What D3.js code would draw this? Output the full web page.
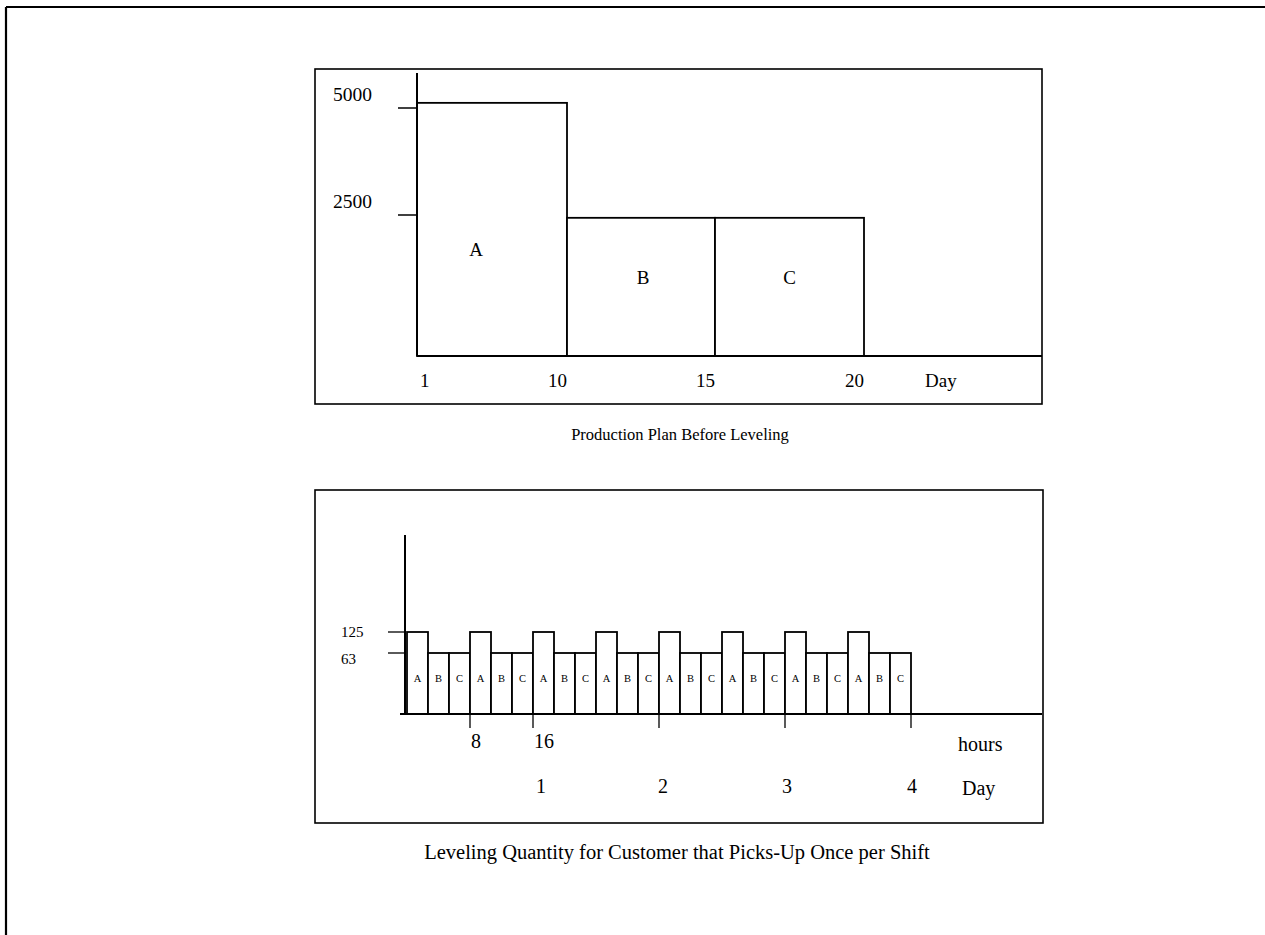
<!DOCTYPE html>
<html>
<head>
<meta charset="utf-8">
<script src="https://cdn.jsdelivr.net/npm/d3@7"></script>
<style>
  html, body { margin: 0; padding: 0; background: #fff; }
  svg { display: block; }
  text { font-family: "Liberation Serif", "Times New Roman", serif; fill: #000; }
</style>
</head>
<body>
<svg id="chart" width="1265" height="935"></svg>
<script>
// ---------- DATA ----------
// Top chart: Production Plan Before Leveling
const planProducts = ["A", "B", "C"];
const planStartDay = [1, 10, 15];
const planEndDay = [10, 15, 20];
const planQuantity = [5120, 2450, 2450];
const planYTicks = [2500, 5000];
const planXTicks = [1, 10, 15, 20];
const planXUnit = "Day";
const planTitle = "Production Plan Before Leveling";

// Bottom chart: Leveling Quantity for Customer that Picks-Up Once per Shift
const levelProducts = ["A","B","C","A","B","C","A","B","C","A","B","C",
                       "A","B","C","A","B","C","A","B","C","A","B","C"];
const levelQuantity = [125,63,63,125,63,63,125,63,63,125,63,63,
                       125,63,63,125,63,63,125,63,63,125,63,63];
const levelTotalHours = 64;
const levelYTicks = [63, 125];
const levelHourTicks = [8, 16];
const levelDayTicks = [1, 2, 3, 4];
const levelHoursPerDay = 16;
const levelTitle = "Leveling Quantity for Customer that Picks-Up Once per Shift";

// ---------- DRAW ----------
const svg = d3.select("#chart");
const ink = "#000";

// outer page frame (top and left edges visible)
svg.append("line").attr("x1", 6).attr("y1", 7).attr("x2", 1265).attr("y2", 7)
  .attr("stroke", ink).attr("stroke-width", 2.2);
svg.append("line").attr("x1", 6).attr("y1", 7).attr("x2", 6).attr("y2", 935)
  .attr("stroke", ink).attr("stroke-width", 2.2);

// ===== Top chart =====
const g1 = svg.append("g");
g1.append("rect").attr("x", 315).attr("y", 69).attr("width", 727).attr("height", 335)
  .attr("fill", "none").attr("stroke", ink).attr("stroke-width", 1.6);

const x1 = d3.scaleLinear().domain([1, 10, 15, 20]).range([417, 567, 715, 864]);
const y1 = d3.scaleLinear().domain([0, 2500, 5000]).range([356, 215, 108]);

// bars
g1.selectAll("rect.bar").data(planProducts).enter().append("rect")
  .attr("class", "bar")
  .attr("x", (d, i) => x1(planStartDay[i]))
  .attr("y", (d, i) => y1(planQuantity[i]))
  .attr("width", (d, i) => x1(planEndDay[i]) - x1(planStartDay[i]))
  .attr("height", (d, i) => y1(0) - y1(planQuantity[i]))
  .attr("fill", "#fff").attr("stroke", ink).attr("stroke-width", 1.8);

const labelDx = [-16, 2, 0];
const labelDy = [27, -3, -3];
g1.selectAll("text.blab").data(planProducts).enter().append("text")
  .attr("class", "blab")
  .attr("x", (d, i) => (x1(planStartDay[i]) + x1(planEndDay[i])) / 2 + labelDx[i])
  .attr("y", (d, i) => (y1(0) + y1(planQuantity[i])) / 2 + labelDy[i])
  .attr("text-anchor", "middle").attr("font-size", 19)
  .text(d => d);

// y axis
g1.append("line").attr("x1", 417).attr("x2", 417).attr("y1", 73).attr("y2", y1(0))
  .attr("stroke", ink).attr("stroke-width", 2);
g1.selectAll("line.ytick").data(planYTicks).enter().append("line")
  .attr("x1", 398).attr("x2", 417)
  .attr("y1", d => y1(d)).attr("y2", d => y1(d))
  .attr("stroke", ink).attr("stroke-width", 1.5);
g1.selectAll("text.ylab").data(planYTicks).enter().append("text")
  .attr("x", 333).attr("y", d => y1(d) - 7)
  .attr("font-size", 19.5).text(d => d);

// x axis baseline
g1.append("line").attr("x1", 417).attr("x2", 1042).attr("y1", y1(0)).attr("y2", y1(0))
  .attr("stroke", ink).attr("stroke-width", 2);
g1.selectAll("text.xlab").data(planXTicks).enter().append("text")
  .attr("x", (d, i) => i === 0 ? x1(d) + 3 : x1(d))
  .attr("y", 387)
  .attr("text-anchor", (d, i) => i === 0 ? "start" : "end")
  .attr("font-size", 19).text(d => d);
g1.append("text").attr("x", 925).attr("y", 387).attr("font-size", 19).text(planXUnit);

svg.append("text").attr("x", 680).attr("y", 440).attr("text-anchor", "middle")
  .attr("font-size", 16.5).text(planTitle);

// ===== Bottom chart =====
const g2 = svg.append("g");
g2.append("rect").attr("x", 315).attr("y", 490).attr("width", 728).attr("height", 333)
  .attr("fill", "none").attr("stroke", ink).attr("stroke-width", 1.6);

const x2 = d3.scaleLinear().domain([0, levelTotalHours]).range([407, 911]);
const y2 = d3.scaleLinear().domain([0, 63, 125]).range([714, 653, 632]);
const barHours = levelTotalHours / levelProducts.length;

g2.selectAll("rect.bar").data(levelProducts).enter().append("rect")
  .attr("class", "bar")
  .attr("x", (d, i) => x2(i * barHours))
  .attr("y", (d, i) => y2(levelQuantity[i]))
  .attr("width", (d, i) => x2((i + 1) * barHours) - x2(i * barHours))
  .attr("height", (d, i) => y2(0) - y2(levelQuantity[i]))
  .attr("fill", "#fff").attr("stroke", ink).attr("stroke-width", 1.8);

g2.selectAll("text.blab").data(levelProducts).enter().append("text")
  .attr("x", (d, i) => x2((i + 0.5) * barHours))
  .attr("y", 682)
  .attr("text-anchor", "middle").attr("font-size", 10.5)
  .text(d => d);

// y axis
g2.append("line").attr("x1", 405).attr("x2", 405).attr("y1", 535).attr("y2", y2(0))
  .attr("stroke", ink).attr("stroke-width", 2);
g2.selectAll("line.ytick").data(levelYTicks).enter().append("line")
  .attr("x1", 388).attr("x2", 405)
  .attr("y1", d => y2(d)).attr("y2", d => y2(d))
  .attr("stroke", ink).attr("stroke-width", 1.3);
g2.selectAll("text.ylab").data(levelYTicks).enter().append("text")
  .attr("x", 341).attr("y", d => d === 125 ? y2(d) + 5 : y2(d) + 11)
  .attr("font-size", 15).text(d => d);

// baseline
g2.append("line").attr("x1", 400).attr("x2", 1042).attr("y1", y2(0)).attr("y2", y2(0))
  .attr("stroke", ink).attr("stroke-width", 2);

// tick marks below baseline
const tickHours = levelHourTicks.concat(levelDayTicks.map(d => d * levelHoursPerDay)
  .filter(h => levelHourTicks.indexOf(h) < 0));
g2.selectAll("line.xtick").data(tickHours).enter().append("line")
  .attr("x1", d => x2(d)).attr("x2", d => x2(d))
  .attr("y1", y2(0)).attr("y2", y2(0) + 14)
  .attr("stroke", ink).attr("stroke-width", 1.3);

g2.selectAll("text.hlab").data(levelHourTicks).enter().append("text")
  .attr("x", d => x2(d) + 1).attr("y", 748)
  .attr("font-size", 20).text(d => d);
g2.append("text").attr("x", 958).attr("y", 751).attr("font-size", 20).text("hours");

const dayDx = [8, 4, 2, 1];
g2.selectAll("text.dlab").data(levelDayTicks).enter().append("text")
  .attr("x", (d, i) => x2(d * levelHoursPerDay) + dayDx[i]).attr("y", 793)
  .attr("text-anchor", "middle")
  .attr("font-size", 20).text(d => d);
g2.append("text").attr("x", 962).attr("y", 795).attr("font-size", 20).text("Day");

svg.append("text").attr("x", 677).attr("y", 859).attr("text-anchor", "middle")
  .attr("font-size", 20.5).text(levelTitle);
</script>
</body>
</html>
